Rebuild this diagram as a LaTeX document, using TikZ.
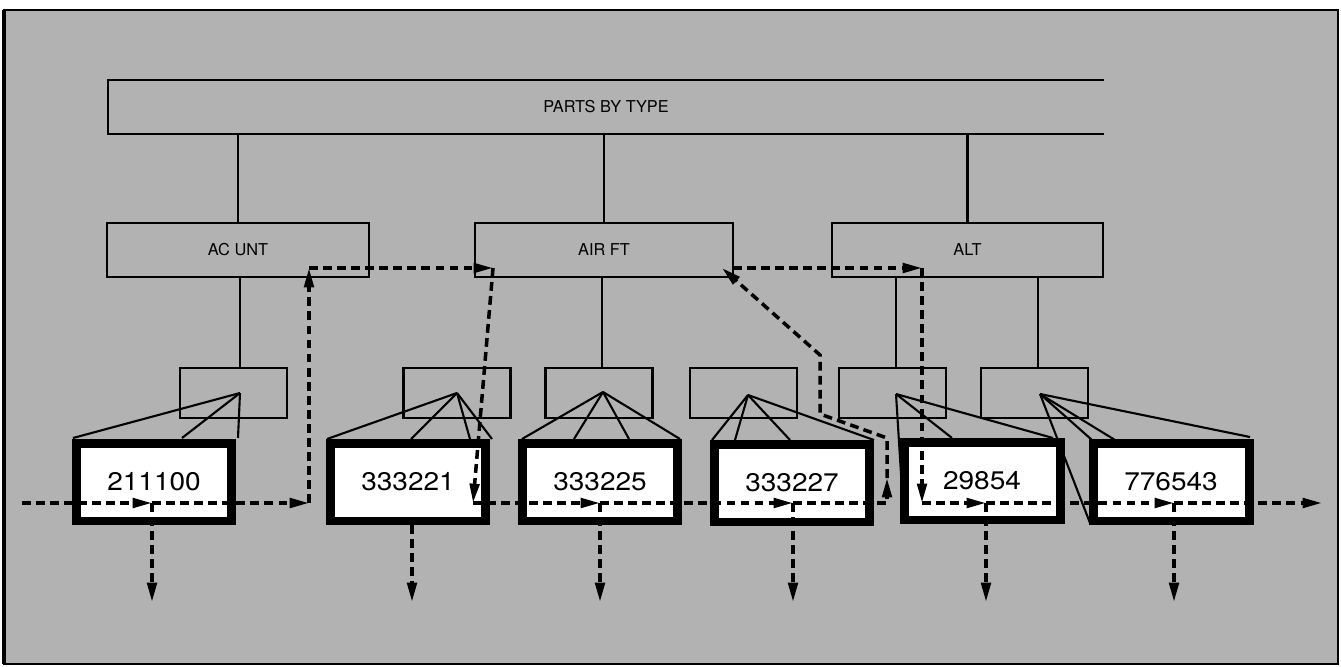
\documentclass[tikz,border=0pt]{standalone}
\usepackage{fontspec}
\setmainfont{TeX Gyre Heros}
\newfontfamily\numfont[FakeStretch=1.1]{TeX Gyre Heros}
\usetikzlibrary{arrows.meta}
\definecolor{paper}{gray}{0.7}

\begin{document}
\begin{tikzpicture}[x=0.02cm, y=-0.02cm, >={Triangle[length=11pt,width=5.4pt]},
    flow/.style={line width=2pt, dash pattern=on 5pt off 3pt},
    typebox/.style={draw, line width=1.2pt, inner sep=0pt, minimum height=1.08cm,
        font=\fontsize{9.3}{10}\selectfont},
    slot/.style={draw, line width=1.2pt, inner sep=0pt, minimum width=2.14cm, minimum height=1cm},
    record/.style={draw, fill=white, line width=0.18cm, inner sep=0pt,
        minimum width=3.12cm, minimum height=1.56cm, font=\numfont\fontsize{14.5}{16}\selectfont},
    fanline/.style={line width=1.2pt, line join=round}]
    \useasboundingbox (0,0) rectangle (1341,666);

    % frame
    \fill[paper] (4,10) rectangle (1338,664);
    \draw[line width=1.2pt] (4,10) rectangle (1338,664);
    \draw[line width=2.4pt] (4,10) -- (4,664);

    % top level, open to the right
    \node[minimum width=19.92cm, minimum height=1.08cm, inner sep=0pt,
        font=\fontsize{9.3}{10}\selectfont] (parts) at (606,107) {PARTS BY TYPE};
    \draw[line width=1.2pt] (parts.north east) -- (parts.north west)
        -- (parts.south west) -- (parts.south east);

    % types
    \node[typebox, minimum width=5.24cm] (acunt) at (238,250) {AC UNT};
    \node[typebox, minimum width=5.16cm] (airft) at (604,250) {AIR FT};
    \node[typebox, minimum width=5.42cm] (alt) at (967.5,250) {ALT};

    \draw[line width=1.2pt] (acunt.north) -- (acunt.north |- parts.south);
    \draw[line width=1.2pt] (airft.north) -- (airft.north |- parts.south);
    \draw[line width=1.2pt] (alt.north) -- (alt.north |- parts.south);

    % slots
    \node[slot] (sl1) at (233.5,393) {};
    \node[slot] (sl2) at (457,393) {};
    \node[slot] (sl3) at (599,393) {};
    \node[slot] (sl4) at (743.5,393) {};
    \node[slot] (sl5) at (892.5,393) {};
    \node[slot] (sl6) at (1034.5,393) {};

    \draw[line width=1.2pt] ([xshift=0.13cm]sl1.north) -- ([xshift=0.13cm]sl1.north |- acunt.south);
    \draw[line width=1.2pt] ([xshift=0.06cm]sl3.north) -- ([xshift=0.06cm]sl3.north |- airft.south);
    \draw[line width=1.2pt] ([xshift=0.07cm]sl5.north) -- ([xshift=0.07cm]sl5.north |- alt.south);
    \draw[line width=1.2pt] ([xshift=0.07cm]sl6.north) -- ([xshift=0.07cm]sl6.north |- alt.south);

    % fans
    \foreach \ax/\ay/\ends in {
        240/393/{73/438,182/438,238/438},
        457/393/{327/439,411/439,470/439,492/439},
        603/392/{522/439,574/439,629/439,680/439},
        748/395/{712/440,735/440,790/440,874/440},
        896/394/{902/490,952/438,1053/438},
        1040/394/{1090/523,1092/440,1115/440,1250/437}}
        \foreach \ex/\ey in \ends
            \draw[fanline] (\ax,\ay) -- (\ex,\ey);

    % records
    \node[record] (rec1) at (154,482) {211100};
    \node[record] (rec2) at (408,482) {333221};
    \node[record] (rec3) at (600,482) {333225};
    \node[record] (rec4) at (792,483) {333227};
    \node[record] (rec5) at (982,481) {29854};
    \node[record] (rec6) at (1171,482) {776543};

    % chain
    \coordinate (in) at (22,503);
    \coordinate (p1) at (152,503);
    \coordinate (k1) at (309,503);
    \coordinate (k2) at (309,268);
    \coordinate (k3) at (493,268);
    \coordinate (p2) at (473,503);
    \coordinate (p3) at (600,503);
    \coordinate (p4) at (793,503);
    \coordinate (k4) at (887,503);
    \coordinate (k5) at (887,478);
    \coordinate (k6) at (887,438);
    \coordinate (k7) at (820,414);
    \coordinate (k8) at (820,355);
    \coordinate (k9) at (722,268);
    \coordinate (k10) at (733,268);
    \coordinate (k11) at (922,268);
    \coordinate (p5) at (922,503);
    \coordinate (p6) at (986,503);
    \coordinate (p7) at (1174,503);
    \coordinate (out) at (1322,503);

    \draw[flow,->] (in) -- (p1);
    \draw[flow,->] (p1) -- (k1);
    \draw[flow,->] (k1) -- (k2);
    \draw[flow,->] (k2) -- (k3);
    \draw[flow,->] (k3) -- (p2);
    \draw[flow,->] (p2) -- (p3);
    \draw[flow,->] (p3) -- (p4);
    \draw[flow,->] (p4) -- (k4) -- (k5);
    \draw[flow,->] (k5) -- (k6) -- (k7) -- (k8) -- (k9);
    \draw[flow,->] (k10) -- (k11);
    \draw[flow,->] (k11) -- (p5);
    \draw[flow,->] (p5) -- (p6);
    \draw[flow,->] (p6) -- (p7);
    \draw[flow,->] (p7) -- (out);

    % drops
    \foreach \dx/\dy in {152/503, 412/525, 600/503, 793/503, 986/503, 1174/503}
        \draw[flow,->] (\dx,\dy) -- (\dx,602);
\end{tikzpicture}
\end{document}
